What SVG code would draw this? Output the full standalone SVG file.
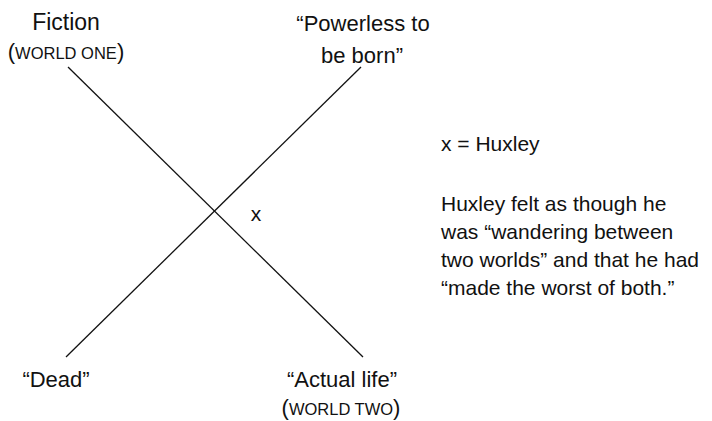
<svg xmlns="http://www.w3.org/2000/svg" width="712" height="421" viewBox="0 0 712 421">
<style>
text{font-family:"Liberation Sans",Arial,sans-serif;fill:#111}
.lbl{font-size:22px;text-anchor:middle}
.sc{font-size:16.5px}
.p{font-size:21px}
.ln{stroke:#111;stroke-width:1.3;fill:none}
</style>
<rect width="712" height="421" fill="#fff"/>
<g id="connectors">
<line class="ln" x1="68" y1="67" x2="363" y2="357"/>
<line class="ln" x1="66" y1="357" x2="361" y2="67"/>
</g>
<g id="fiction">
<text class="lbl" x="66" y="30" style="font-size:23px">Fiction</text>
<text class="lbl" x="66" y="59">(<tspan class="sc">WORLD ONE</tspan>)</text>
</g>
<g id="powerless">
<text class="lbl" x="363" y="31">“Powerless to</text>
<text class="lbl" x="362" y="63">be born”</text>
</g>
<g id="dead">
<text class="lbl" x="56" y="387">“Dead”</text>
</g>
<g id="actual">
<text class="lbl" x="342" y="387">“Actual life”</text>
<text class="lbl" x="341" y="415">(<tspan class="sc">WORLD TWO</tspan>)</text>
</g>
<g id="x-mark">
<text class="lbl" x="256" y="221" style="font-size:21px">x</text>
</g>
<g id="legend">
<text class="p" x="441" y="151">x = Huxley</text>
<text class="p" x="441" y="211">Huxley felt as though he</text>
<text class="p" x="441" y="239">was “wandering between</text>
<text class="p" x="441" y="267">two worlds” and that he had</text>
<text class="p" x="441" y="295">“made the worst of both.”</text>
</g>
</svg>
